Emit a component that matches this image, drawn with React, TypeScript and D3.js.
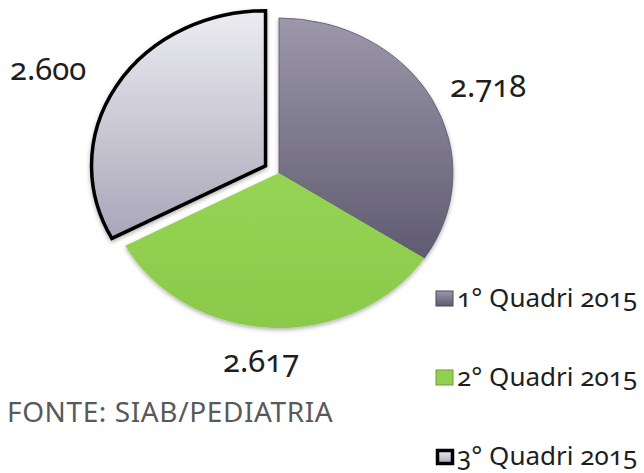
import React, { useEffect, useRef } from 'react';
import * as d3 from 'd3';

// Quadrimestre totals (SIAB / pediatria)
const categories = ['1° Quadri 2015', '2° Quadri 2015', '3° Quadri 2015'];
const values = [2718, 2617, 2600];
const valueLabels = ['2.718', '2.617', '2.600'];
const source = 'FONTE: SIAB/PEDIATRIA';

const WIDTH = 644;
const HEIGHT = 473;

// eslint-disable-next-line @typescript-eslint/no-explicit-any
type Slice = any;

export default function App() {
  const svgRef = useRef<SVGSVGElement>(null);

  useEffect(() => {
    if (!svgRef.current) return;
    const svg = d3.select(svgRef.current);
    svg.selectAll('*').remove();

    const font = "'Noto Sans', sans-serif";
    const cx = 279;
    const cy = 173;
    const r = 155;
    const sx = 174 / 155; // pie is stretched horizontally
    const explode = 14;

    const defs = svg.append('defs');
    const grad = (id: string, top: string, bottom: string) => {
      const g = defs
        .append('linearGradient')
        .attr('id', id)
        .attr('x1', 0)
        .attr('y1', 0)
        .attr('x2', 0)
        .attr('y2', 1);
      g.append('stop').attr('offset', '0%').attr('stop-color', top);
      g.append('stop').attr('offset', '100%').attr('stop-color', bottom);
    };
    grad('g-purple', '#9c98aa', '#5f5b70');
    grad('g-green', '#96d455', '#8bc94a');
    grad('g-gray', '#ececf1', '#a8a6b8');
    const shadow = defs.append('filter').attr('id', 'shadow').attr('x', '-20%').attr('y', '-20%').attr('width', '140%').attr('height', '140%');
    shadow
      .append('feDropShadow')
      .attr('dx', 0)
      .attr('dy', 2)
      .attr('stdDeviation', 2)
      .attr('flood-color', '#000')
      .attr('flood-opacity', 0.3);

    const fills = ['url(#g-purple)', 'url(#g-green)', 'url(#g-gray)'];
    const strokes = ['#5a576a', 'none', '#000'];
    const strokeW = [0.8, 0, 3.5];

    const pie = d3
      .pie<number>()
      .sort(null)
      .value(d => d);
    const arcs = pie(values);
    const arc = d3.arc<Slice>().innerRadius(0).outerRadius(r);

    const g = svg
      .append('g')
      .attr('filter', 'url(#shadow)')
      .attr('transform', `translate(${cx},${cy}) scale(${sx},1)`);

    g.selectAll('path')
      .data(arcs)
      .join('path')
      .attr('transform', (d: Slice, i: number) => {
        if (i !== 2) return null;
        const a = (d.startAngle + d.endAngle) / 2;
        return `translate(${Math.sin(a) * explode},${-Math.cos(a) * explode})`;
      })
      .attr('d', (d: Slice) => arc(d) as string)
      .attr('fill', (_d: Slice, i: number) => fills[i])
      .attr('stroke', (_d: Slice, i: number) => strokes[i])
      .attr('stroke-width', (_d: Slice, i: number) => strokeW[i])
      .attr('stroke-linejoin', 'miter')
      .attr('vector-effect', 'non-scaling-stroke');

    // value labels
    const labelPos: [number, number, string][] = [
      [450, 97, 'start'],
      [223, 372, 'start'],
      [10, 80, 'start'],
    ];
    svg
      .append('g')
      .selectAll('text')
      .data(valueLabels)
      .join('text')
      .attr('x', (_d, i) => labelPos[i][0])
      .attr('y', (_d, i) => labelPos[i][1])
      .attr('text-anchor', (_d, i) => labelPos[i][2])
      .style('font-family', font)
      .style('font-size', '31px')
      .style('font-variant-numeric', 'oldstyle-nums')
      .attr('fill', '#1e1e1e')
      .text(d => d);

    // legend
    const legendY = d3.scalePoint<string>().domain(categories).range([299, 457]);
    const sw = ['#7a7689', '#92d050', '#c8c7d3'];
    const legend = svg
      .append('g')
      .selectAll('g')
      .data(categories)
      .join('g')
      .attr('transform', d => `translate(436,${legendY(d)})`);
    legend
      .append('rect')
      .attr('x', (_d, i) => (i === 2 ? 1.5 : 0))
      .attr('y', (_d, i) => (i === 2 ? -6.5 : -8))
      .attr('width', (_d, i) => (i === 2 ? 15 : 17))
      .attr('height', (_d, i) => (i === 2 ? 13 : 15))
      .attr('fill', (_d, i) => (i === 1 ? sw[1] : fills[i]))
      .attr('stroke', (_d, i) => (i === 0 ? '#4a4858' : i === 1 ? '#6c9c3a' : '#000'))
      .attr('stroke-width', (_d, i) => (i === 2 ? 3.5 : 1));
    legend
      .append('text')
      .attr('x', 21)
      .attr('y', 8)
      .style('font-family', font)
      .style('font-size', '26px')
      .style('font-variant-numeric', 'oldstyle-nums')
      .attr('fill', '#1e1e1e')
      .text(d => d);

    svg
      .append('text')
      .attr('x', 7)
      .attr('y', 422)
      .style('font-family', font)
      .style('font-size', '28px')
      .style('letter-spacing', '0.6px')
      .attr('fill', '#595959')
      .text(source);
  }, []);

  return (
    <svg
      ref={svgRef}
      width={WIDTH}
      height={HEIGHT}
      style={{ position: 'absolute', left: 0, top: 0, background: '#fff' }}
    />
  );
}
